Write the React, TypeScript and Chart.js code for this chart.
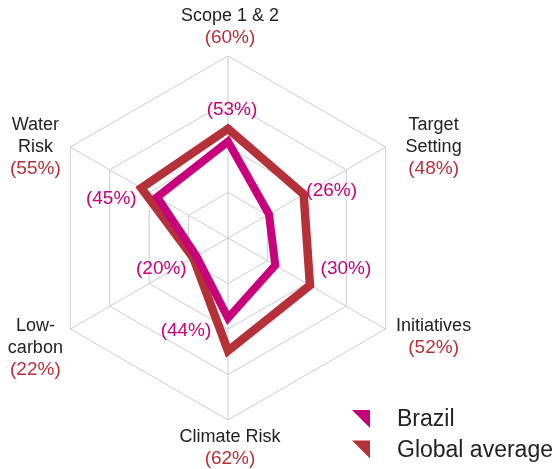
import React, { useEffect, useRef } from "react";
import { Chart, registerables } from "chart.js";

Chart.register(...registerables);

const categories = ["Scope 1 & 2", "Target Setting", "Initiatives", "Climate Risk", "Low-carbon", "Water Risk"];
const categoryLines = [["Scope 1 & 2"], ["Target", "Setting"], ["Initiatives"], ["Climate Risk"], ["Low-", "carbon"], ["Water", "Risk"]];
const brazil = [53, 26, 30, 44, 20, 45];
const globalAvg = [60, 48, 52, 62, 22, 55];
const seriesNames = ["Brazil", "Global average"];

const PINK = "#c8007c";
const RED = "#b5313a";
const DARK = "#222222";
const GRID = "#cccccc";

// label layout: offset of first line centre from the outer vertex of each axis
const axisLabelOffsets = [
  [2, -40],
  [48, -22],
  [48, -3],
  [2, 17],
  [-35, -3],
  [-35, -22],
];
// offset of Brazil value labels from the Global average point
const brazilLabelOffsets = [
  [4, -19],
  [28, -4],
  [36, -17],
  [-42, -20],
  [-32, 11],
  [-30, 11],
];

const labelPlugin = {
  id: "customLabels",
  afterDraw(chart: any) {
    const ctx = chart.ctx;
    const scale = chart.scales.r;
    const lineH = 22;
    const nameFont = "18px 'Liberation Sans', Arial, sans-serif";
    const pctFont = "19px 'Liberation Sans', Arial, sans-serif";
    ctx.save();
    ctx.textAlign = "center";
    ctx.textBaseline = "middle";
    for (let i = 0; i < categories.length; i++) {
      const p = scale.getPointPositionForValue(i, scale.max);
      const x = p.x + axisLabelOffsets[i][0];
      let y = p.y + axisLabelOffsets[i][1];
      const lines = categoryLines[i];
      ctx.fillStyle = DARK;
      ctx.font = nameFont;
      for (const ln of lines) {
        ctx.fillText(ln, x, y);
        y += lineH;
      }
      ctx.fillStyle = RED;
      ctx.font = pctFont;
      ctx.fillText("(" + globalAvg[i] + "%)", x, y);
    }
    ctx.fillStyle = PINK;
    ctx.font = pctFont;
    for (let i = 0; i < categories.length; i++) {
      const p = scale.getPointPositionForValue(i, globalAvg[i]);
      ctx.fillText("(" + brazil[i] + "%)", p.x + brazilLabelOffsets[i][0], p.y + brazilLabelOffsets[i][1]);
    }
    // legend
    const colors = [PINK, RED];
    ctx.textAlign = "left";
    ctx.font = "23px 'Liberation Sans', Arial, sans-serif";
    const lx = 352;
    const ly0 = 410;
    const gap = 30.5;
    for (let k = 0; k < seriesNames.length; k++) {
      const y0 = ly0 + k * gap;
      ctx.fillStyle = colors[k];
      ctx.beginPath();
      ctx.moveTo(lx, y0);
      ctx.lineTo(lx + 18, y0);
      ctx.lineTo(lx + 18, y0 + 18);
      ctx.closePath();
      ctx.fill();
      ctx.fillStyle = DARK;
      ctx.fillText(seriesNames[k], lx + 45, y0 + 10);
    }
    ctx.restore();
  },
};

export default function App() {
  const ref = useRef<HTMLCanvasElement | null>(null);
  useEffect(() => {
    if (!ref.current) return;
    const chart = new Chart(ref.current, {
      type: "radar",
      data: {
        labels: categories,
        datasets: [
          {
            label: seriesNames[0],
            data: brazil,
            borderColor: PINK,
            backgroundColor: "rgba(0,0,0,0)",
            borderWidth: 8,
            fill: false,
            pointRadius: 0,
            borderJoinStyle: "miter",
          },
          {
            label: seriesNames[1],
            data: globalAvg,
            borderColor: RED,
            backgroundColor: "rgba(0,0,0,0)",
            borderWidth: 8.5,
            fill: false,
            pointRadius: 0,
            borderJoinStyle: "miter",
          },
        ],
      },
      options: {
        animation: false,
        responsive: true,
        maintainAspectRatio: false,
        devicePixelRatio: 1,
        layout: { padding: { left: 46, top: 56, right: 147, bottom: 49 } },
        plugins: { legend: { display: false }, tooltip: { enabled: false } },
        scales: {
          r: {
            min: 0,
            max: 100,
            ticks: { display: false, stepSize: 25 },
            grid: { color: GRID, lineWidth: 1 },
            angleLines: { color: GRID, lineWidth: 1 },
            pointLabels: { display: false },
          },
        },
      },
      plugins: [labelPlugin],
    });
    return () => chart.destroy();
  }, []);
  return (
    <div style={{ position: "fixed", left: 0, top: 0, width: 557, height: 469, background: "#fff" }}>
      <canvas ref={ref} />
    </div>
  );
}
